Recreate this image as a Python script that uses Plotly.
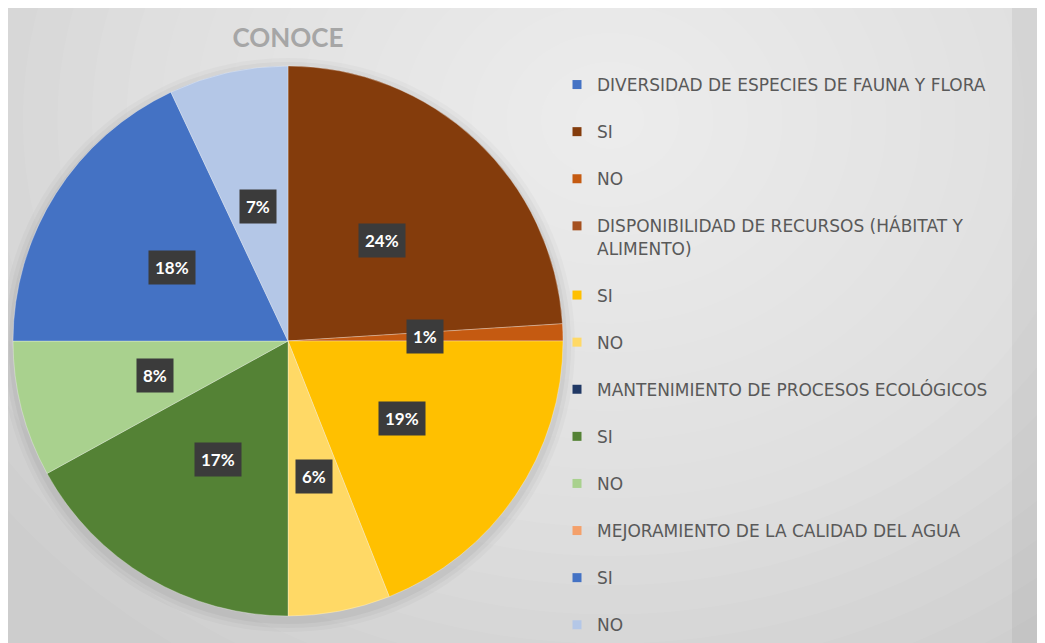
import numpy as np
import plotly.graph_objects as go

# Datos del gráfico
titulo = "CONOCE"
porcentajes = [24, 1, 19, 6, 17, 8, 18, 7]
respuestas = ["SI", "NO", "SI", "NO", "SI", "NO", "SI", "NO"]
colores_porcion = ["#843C0C", "#C55A11", "#FFC000", "#FFD966",
                   "#548235", "#A9D18E", "#4472C4", "#B4C7E7"]

leyenda_textos = [
    "DIVERSIDAD DE ESPECIES DE FAUNA Y FLORA", "SI", "NO",
    "DISPONIBILIDAD DE RECURSOS (HÁBITAT Y<br>ALIMENTO)", "SI", "NO",
    "MANTENIMIENTO DE PROCESOS ECOLÓGICOS", "SI", "NO",
    "MEJORAMIENTO DE LA CALIDAD DEL AGUA", "SI", "NO",
]
leyenda_colores = [
    "#4472C4", "#843C0C", "#C55A11",
    "#A5501F", "#FFC000", "#FFD966",
    "#203864", "#548235", "#A9D18E",
    "#F4A06A", "#4472C4", "#B4C7E7",
]

# La página deja un margen blanco de 8px arriba y a la izquierda
OFF = 8
W, H = 1045 - OFF, 643 - OFF
CX, CY, R = 288, 341, 275  # centro y radio del pastel (pixeles de la página)


def px_x(x):
    return (x - OFF) / W


def px_y(y):
    return 1 - (y - OFF) / H


fig = go.Figure()

# Pastel
fig.add_trace(go.Pie(
    values=porcentajes,
    labels=[f"{r} ({i + 1})" for i, r in enumerate(respuestas)],
    marker=dict(colors=colores_porcion, line=dict(color="rgba(255,255,255,0.5)", width=0.6)),
    sort=False,
    direction="clockwise",
    rotation=0,
    textinfo="none",
    hovertemplate="%{label}: %{value}%<extra></extra>",
    showlegend=False,
    domain=dict(x=[px_x(CX - R), px_x(CX + R)], y=[px_y(CY + R), px_y(CY - R)]),
))

# Entradas de la leyenda
for i, (t, c) in enumerate(zip(leyenda_textos, leyenda_colores)):
    fig.add_trace(go.Scatter(
        x=[None], y=[None], mode="markers", name=t,
        marker=dict(symbol="square", size=9, color=c),
        legendgroup=str(i), showlegend=True,
    ))

# Etiquetas de porcentaje con fondo oscuro
total = sum(porcentajes)
acum = np.cumsum([0] + porcentajes[:-1])
annotations = []
for p, a in zip(porcentajes, acum):
    th = (a + p / 2) / total * 2 * np.pi
    x = CX + 0.5 * R * np.sin(th)
    y = CY - 0.5 * R * np.cos(th)
    annotations.append(dict(
        x=px_x(x), y=px_y(y), xref="paper", yref="paper",
        xanchor="center", yanchor="middle",
        text=f"<b>{p}%</b>", showarrow=False,
        font=dict(family="Lato", size=17, color="white"),
        bgcolor="#3b3b3b", borderpad=6,
    ))

# Fondo con degradado radial aproximado
shapes = [dict(type="rect", xref="paper", yref="paper", layer="below",
               x0=0, x1=1, y0=0, y1=1,
               fillcolor="#cdcdcd", line=dict(width=0))]
N = 22
for k in range(N):
    f = 1 - k / N
    rx, ry = 760 * f, 640 * f
    shapes.append(dict(type="circle", xref="paper", yref="paper", layer="below",
                       x0=px_x(610 - rx), x1=px_x(610 + rx),
                       y0=px_y(120 + ry), y1=px_y(120 - ry),
                       fillcolor="white", opacity=0.06, line=dict(width=0)))
shapes.append(dict(type="rect", xref="paper", yref="paper", layer="below",
                   x0=px_x(1012), x1=1, y0=0, y1=1,
                   fillcolor="black", opacity=0.05, line=dict(width=0)))
# sombra suave del pastel
for d, op in [(12, 0.025), (8, 0.03), (4, 0.04)]:
    shapes.append(dict(type="circle", xref="paper", yref="paper", layer="below",
                       x0=px_x(CX - R - d), x1=px_x(CX + R + d),
                       y0=px_y(CY + R + d + 4), y1=px_y(CY - R - d + 4),
                       fillcolor="black", opacity=op, line=dict(width=0)))

fig.update_layout(
    width=W, height=H,
    margin=dict(l=0, r=0, t=0, b=0),
    paper_bgcolor="white",
    plot_bgcolor="rgba(0,0,0,0)",
    xaxis=dict(visible=False),
    yaxis=dict(visible=False),
    title=dict(text=f"<b>{titulo}</b>", x=px_x(CX), xanchor="center",
               y=px_y(38), yanchor="middle",
               font=dict(family="Lato", size=26, color="#a6a6a6")),
    legend=dict(x=px_x(557), xanchor="left", y=px_y(67), yanchor="top",
                font=dict(family="DejaVu Sans", size=17, color="#595959"),
                bgcolor="rgba(0,0,0,0)", valign="top", maxheight=2000,
                tracegroupgap=22, itemclick=False, itemdoubleclick=False),
    annotations=annotations,
    shapes=shapes,
)

fig.write_html("out.html")
